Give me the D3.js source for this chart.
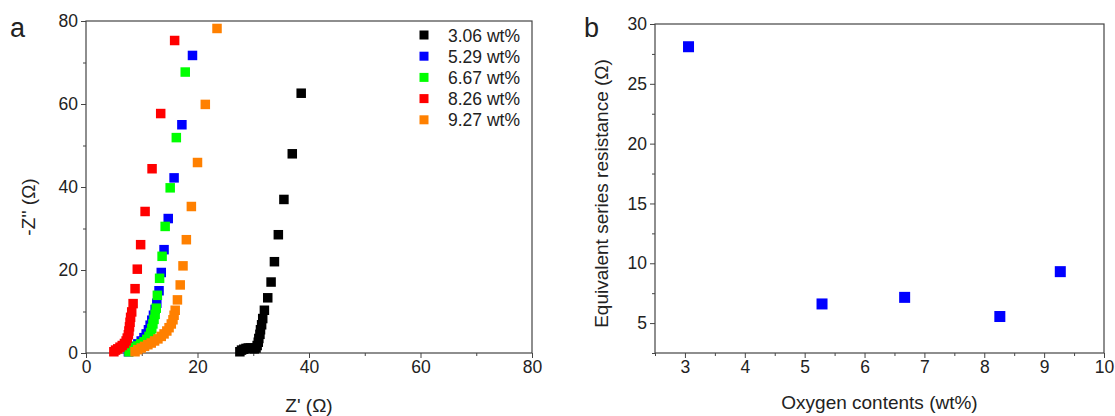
<!DOCTYPE html>
<html>
<head>
<meta charset="utf-8">
<script src="https://cdn.jsdelivr.net/npm/d3@7"></script>
<style>
  body { margin: 0; background: #fff; }
  svg { font-family: "Liberation Sans", Arial, sans-serif; }
  .axis path, .axis line { stroke: #444; }
  .axis text { fill: #222; font-size: 17.5px; }
</style>
</head>
<body>
<div id="chart"></div>
<script>
// ---- data ----
const seriesNames = ["3.06 wt%", "5.29 wt%", "6.67 wt%", "8.26 wt%", "9.27 wt%"];
const seriesColors = ["#000000", "#0000ff", "#00ff00", "#ff0000", "#ff8000"];

const nyq306 = [[27.6,0.3],[27.9,0.7],[28.3,0.9],[28.7,1.1],[29.1,1.2],[29.5,1.2],[29.9,1.1],[30.2,1.0],
  [30.5,1.2],[30.7,1.8],[30.9,2.6],[31.0,3.5],[31.2,4.5],[31.3,5.6],[31.5,6.8],[31.7,8.3],[32.0,10.3],
  [32.6,13.3],[33.2,17.1],[33.8,22.0],[34.5,28.5],[35.5,37.0],[37.0,48.0],[38.6,62.6]];
const nyq529 = [[7.6,0.3],[8.0,1.0],[8.6,1.6],[9.3,2.2],[9.9,2.9],[10.4,3.7],[10.8,4.6],[11.2,5.6],
  [11.5,6.7],[11.8,7.9],[12.1,9.1],[12.4,10.5],[12.7,12.0],[13.1,15.0],[13.5,19.4],[14.0,24.9],
  [14.75,32.4],[15.8,42.2],[17.2,55.0],[19.1,71.7]];
const nyq667 = [[7.7,0.3],[8.1,0.8],[8.6,1.3],[9.2,1.7],[9.8,2.2],[10.4,2.7],[10.9,3.3],[11.3,4.0],
  [11.6,4.9],[11.8,5.9],[12.0,7.0],[12.2,8.1],[12.4,9.3],[12.6,10.8],[12.8,13.9],[13.2,18.0],
  [13.65,23.3],[14.2,30.5],[15.1,39.8],[16.2,51.9],[17.8,67.7]];
const nyq826 = [[5.0,0.3],[5.3,0.7],[5.7,1.0],[6.1,1.4],[6.5,1.8],[6.9,2.3],[7.2,2.9],[7.4,3.6],
  [7.6,4.4],[7.7,5.3],[7.8,6.3],[7.9,7.4],[8.0,8.6],[8.2,9.9],[8.45,11.9],[8.8,15.5],[9.2,20.2],
  [9.8,26.1],[10.6,34.1],[11.85,44.4],[13.4,57.7],[15.9,75.3]];
const nyq927 = [[8.8,0.3],[9.3,0.8],[9.9,1.2],[10.5,1.6],[11.1,2.0],[11.7,2.4],[12.3,2.9],[12.9,3.4],
  [13.5,4.0],[14.0,4.6],[14.5,5.3],[14.9,6.1],[15.3,7.0],[15.6,8.0],[15.8,9.1],[16.0,10.3],[16.4,12.8],
  [16.9,16.4],[17.4,21.0],[18.0,27.3],[18.9,35.3],[20.0,45.9],[21.4,59.9],[23.5,78.2]];
const nyquist = [nyq306, nyq529, nyq667, nyq826, nyq927];

const oxygen = [3.06, 5.29, 6.67, 8.26, 9.27];
const esr = [28.1, 6.6, 7.15, 5.55, 9.3];

const zTicks = [0, 20, 40, 60, 80];
const zMinor = [10, 30, 50, 70];
const oxTicks = [3, 4, 5, 6, 7, 8, 9, 10];
const oxMinor = [2.5, 3.5, 4.5, 5.5, 6.5, 7.5, 8.5, 9.5];
const esrTicks = [5, 10, 15, 20, 25, 30];
const esrMinor = [2.5, 7.5, 12.5, 17.5, 22.5, 27.5];

const W = 1115, H = 416;
const svg = d3.select("#chart").append("svg").attr("width", W).attr("height", H);

function frame(g, w, h) {
  g.append("rect").attr("width", w).attr("height", h)
    .attr("fill", "none").attr("stroke", "#444").attr("stroke-width", 1.2);
}

function drawAxes(g, x, y, w, h, xt, xm, yt, ym) {
  g.append("g").attr("class", "axis").attr("transform", `translate(0,${h})`)
    .call(d3.axisBottom(x).tickValues(xt).tickSize(5).tickPadding(3).tickFormat(d3.format("d")))
    .call(a => a.select(".domain").remove());
  g.append("g").attr("class", "axis").attr("transform", `translate(0,${h})`)
    .call(d3.axisBottom(x).tickValues(xm).tickSize(3).tickFormat(""))
    .call(a => a.select(".domain").remove());
  g.append("g").attr("class", "axis")
    .call(d3.axisLeft(y).tickValues(yt).tickSize(5).tickPadding(3).tickFormat(d3.format("d")))
    .call(a => a.select(".domain").remove());
  g.append("g").attr("class", "axis")
    .call(d3.axisLeft(y).tickValues(ym).tickSize(3).tickFormat(""))
    .call(a => a.select(".domain").remove());
  frame(g, w, h);
}

// ---------- panel a ----------
const A = { left: 86, top: 21, w: 446, h: 332 };
const ga = svg.append("g").attr("transform", `translate(${A.left},${A.top})`);
const xa = d3.scaleLinear().domain([0, 80]).range([0, A.w]);
const ya = d3.scaleLinear().domain([0, 80]).range([A.h, 0]);
drawAxes(ga, xa, ya, A.w, A.h, zTicks, zMinor, zTicks, zMinor);

const ms = 9.5;
nyquist.forEach((pts, i) => {
  ga.append("g").selectAll("rect").data(pts).join("rect")
    .attr("x", d => xa(d[0]) - ms / 2)
    .attr("y", d => ya(d[1]) - ms / 2)
    .attr("width", ms).attr("height", ms)
    .attr("fill", seriesColors[i]);
});

// legend
const leg = ga.append("g").attr("transform", `translate(${424 - A.left},${35 - A.top})`);
seriesNames.forEach((n, i) => {
  leg.append("rect").attr("x", -4.5).attr("y", i * 21.2 - 4.5)
    .attr("width", 9).attr("height", 9).attr("fill", seriesColors[i]);
  leg.append("text").attr("x", 24).attr("y", i * 21.2 + 6.5)
    .style("font-size", "17.5px").attr("fill", "#222").text(n);
});

ga.append("text").attr("x", A.w / 2).attr("y", A.h + 59)
  .attr("text-anchor", "middle").style("font-size", "19px").attr("fill", "#222").text("Z' (Ω)");
ga.append("text").attr("transform", `translate(${-51},${A.h / 2 + 20}) rotate(-90)`)
  .attr("text-anchor", "middle").style("font-size", "19px").attr("fill", "#222").text("-Z'' (Ω)");
svg.append("text").attr("x", 10).attr("y", 37).style("font-size", "27px").attr("fill", "#222").text("a");

// ---------- panel b ----------
const B = { left: 655, top: 24, w: 449, h: 329 };
const gb = svg.append("g").attr("transform", `translate(${B.left},${B.top})`);
const xb = d3.scaleLinear().domain([2.5, 10]).range([0, B.w]);
const yb = d3.scaleLinear().domain([2.5, 30]).range([B.h, 0]);
drawAxes(gb, xb, yb, B.w, B.h, oxTicks, oxMinor, esrTicks, esrMinor);

const mb = 11;
gb.append("g").selectAll("rect").data(oxygen).join("rect")
  .attr("x", (d) => xb(d) - mb / 2)
  .attr("y", (d, i) => yb(esr[i]) - mb / 2)
  .attr("width", mb).attr("height", mb)
  .attr("fill", "#0000ff");

gb.append("text").attr("x", B.w / 2).attr("y", B.h + 56)
  .attr("text-anchor", "middle").style("font-size", "19px").attr("fill", "#222").text("Oxygen contents (wt%)");
gb.append("text").attr("transform", `translate(${-47},${B.h / 2 + 5}) rotate(-90)`)
  .attr("text-anchor", "middle").style("font-size", "19px").attr("fill", "#222")
  .text("Equivalent series resistance (Ω)");
svg.append("text").attr("x", 584).attr("y", 37).style("font-size", "27px").attr("fill", "#222").text("b");
</script>
</body>
</html>
